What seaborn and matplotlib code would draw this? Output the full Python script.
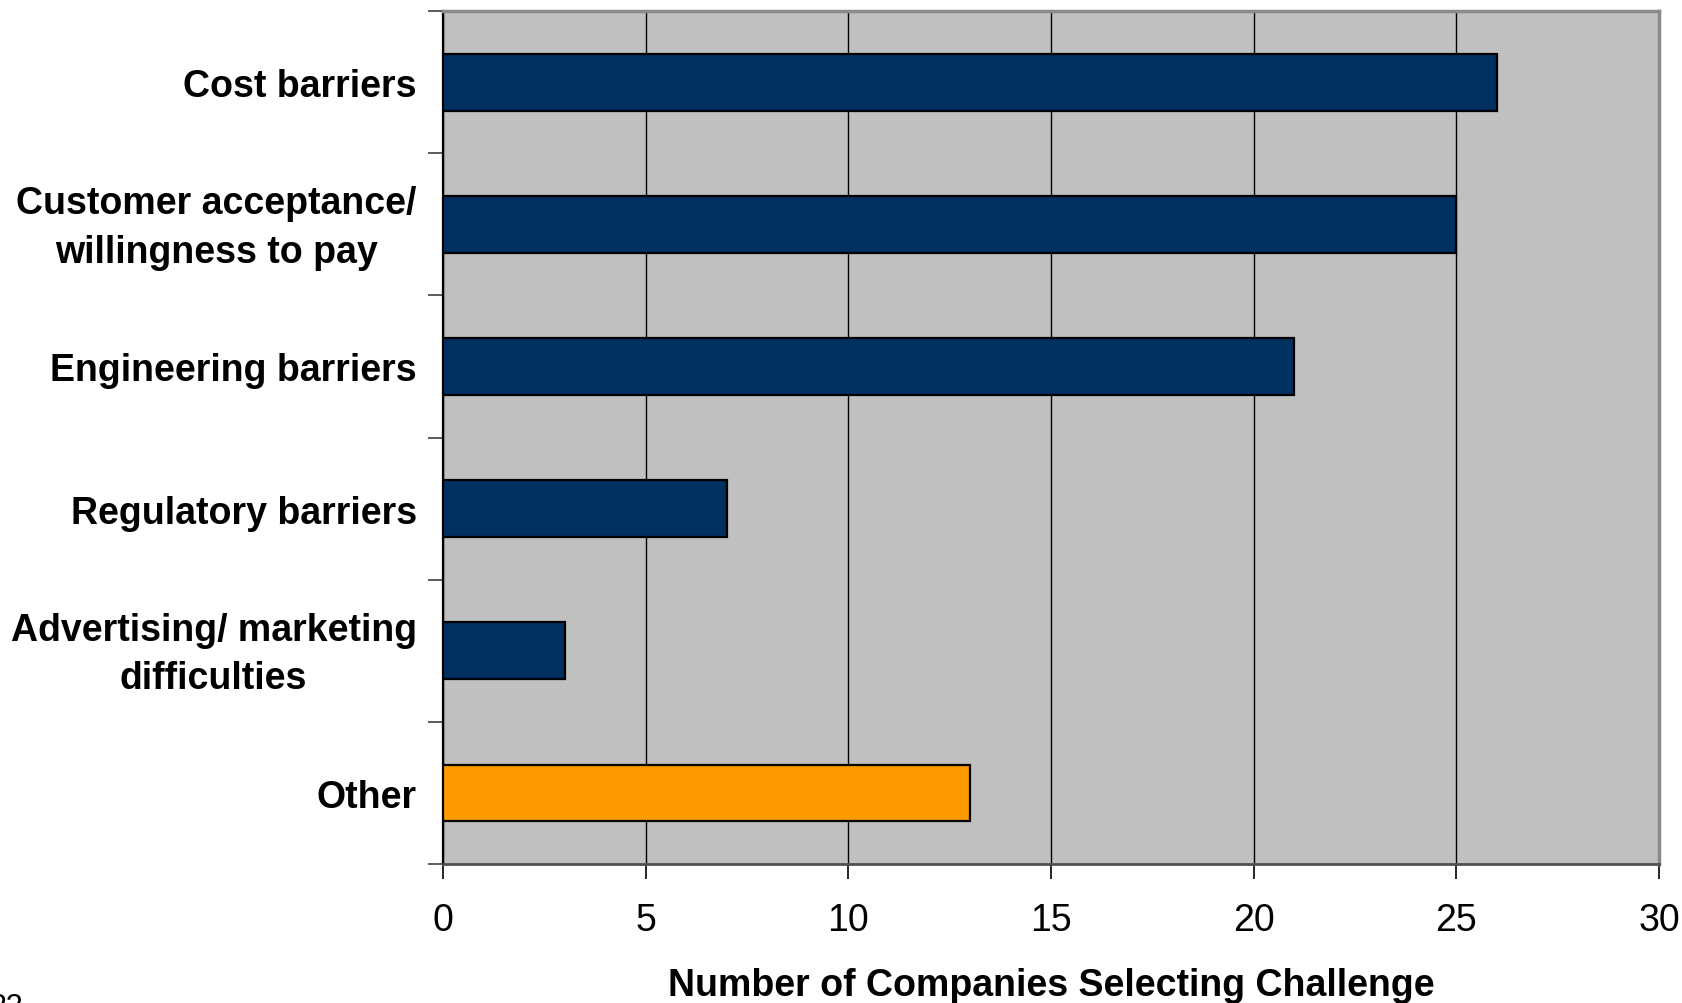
import matplotlib
matplotlib.use("Agg")
import matplotlib.pyplot as plt
import matplotlib.transforms as mtransforms
from matplotlib.ticker import FixedLocator
import seaborn as sns
import pandas as pd

categories = [
    "Cost barriers",
    "Customer acceptance/\nwillingness to pay",
    "Engineering barriers",
    "Regulatory barriers",
    "Advertising/ marketing\ndifficulties",
    "Other",
]
counts = [26, 25, 21, 7, 3, 13]
bar_colors = ["#003060", "#003060", "#003060", "#003060", "#003060", "#FF9900"]
x_ticks = [0, 5, 10, 15, 20, 25, 30]

df = pd.DataFrame({"challenge": categories, "count": counts})

sns.set_style("white")
plt.rcParams["font.family"] = ["Liberation Sans", "DejaVu Sans"]
plt.rcParams["text.color"] = "black"
plt.rcParams["axes.labelcolor"] = "black"
plt.rcParams["xtick.labelcolor"] = "black"
plt.rcParams["ytick.labelcolor"] = "black"

fig = plt.figure(figsize=(16.82, 10.04), dpi=100)
ax = fig.add_axes([0.2634, 0.1384, 0.9863 - 0.2634, 0.988 - 0.1384])
ax.set_facecolor("#C0C0C0")

sns.barplot(
    data=df, x="count", y="challenge", hue="challenge",
    palette=dict(zip(categories, bar_colors)), legend=False,
    orient="h", width=0.4, saturation=1,
    edgecolor="black", linewidth=1.6, ax=ax, zorder=3,
)

ax.set_xlim(0, 30)
ax.set_ylim(len(categories) - 0.5, -0.5)
ax.xaxis.set_major_locator(FixedLocator(x_ticks))
ax.grid(axis="x", color="black", linewidth=1.0, zorder=0)
ax.set_axisbelow(True)

# x axis ticks and labels
ax.tick_params(axis="x", direction="out", length=11, width=1.2, color="black",
               labelsize=27, labelcolor="black", pad=16, bottom=True)

# y axis: labels without ticks, separator ticks between categories
ax.tick_params(axis="y", which="major", length=0, pad=19, labelsize=27,
               labelcolor="black")
ax.yaxis.set_minor_locator(FixedLocator([i - 0.5 for i in range(len(categories) + 1)]))
ax.tick_params(axis="y", which="minor", direction="out", length=11, width=1.2,
               color="#404040", left=True)

ax.set_ylabel("")
ax.set_xlabel("Number of Companies Selecting Challenge", fontsize=27,
              fontweight="bold", color="black")
ax.xaxis.set_label_coords(0.5, -0.121)
ax.xaxis.label.set_va("top")

for side in ["top", "right"]:
    ax.spines[side].set_color("#8A8A8A")
    ax.spines[side].set_linewidth(2.5)
ax.spines["left"].set_color("black")
ax.spines["left"].set_linewidth(1.6)
ax.spines["bottom"].set_color("#505050")
ax.spines["bottom"].set_linewidth(2.0)

# page number in the lower-left corner
fig.text(-0.006, 0.011, "23", fontsize=22, va="top", ha="left")

fig.canvas.draw()
lift = mtransforms.ScaledTranslation(0, 5 / 72, fig.dpi_scale_trans)
for lbl in ax.get_yticklabels():
    lbl.set_fontweight("bold")
    lbl.set_multialignment("center")
    lbl.set_linespacing(1.45)
    if "\n" in lbl.get_text():
        lbl.set_transform(lbl.get_transform() + lift)

fig.savefig("out.png", dpi=100)
